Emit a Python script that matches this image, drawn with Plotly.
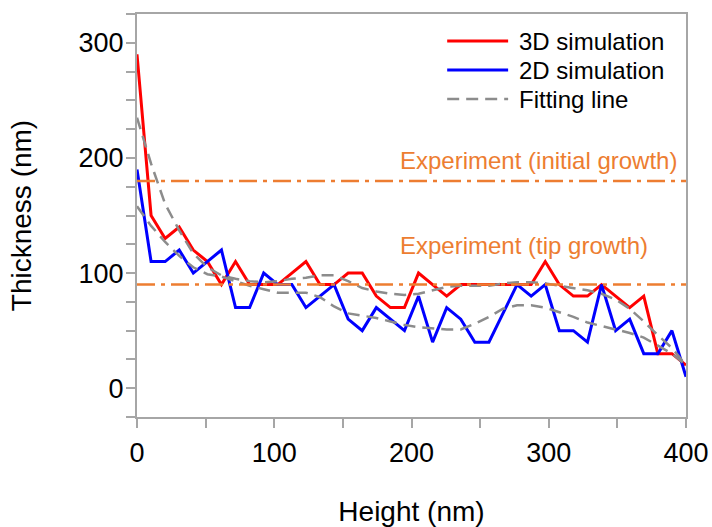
import plotly.graph_objects as go

# Height positions of the simulation samples (nm)
height_nm = [0, 10.26, 20.51, 30.77, 41.03, 51.28, 61.54, 71.79, 82.05, 92.31,
             102.56, 112.82, 123.08, 133.33, 143.59, 153.85, 164.10, 174.36, 184.62, 194.87,
             205.13, 215.38, 225.64, 235.90, 246.15, 256.41, 266.67, 276.92, 287.18, 297.44,
             307.69, 317.95, 328.21, 338.46, 348.72, 358.97, 369.23, 379.49, 389.74, 400]

# Thickness (nm)
sim_3d = [290, 150, 130, 140, 120, 110, 90, 110, 90, 90,
          90, 100, 110, 90, 90, 100, 100, 80, 70, 70,
          100, 90, 80, 90, 90, 90, 90, 90, 90, 110,
          90, 80, 80, 90, 80, 70, 80, 30, 30, 20]

sim_2d = [190, 110, 110, 120, 100, 110, 120, 70, 70, 100,
          90, 90, 70, 80, 90, 60, 50, 70, 60, 50,
          80, 40, 70, 60, 40, 40, 65, 90, 80, 90,
          50, 50, 40, 90, 50, 60, 30, 30, 50, 10]

fit_3d = [235, 195, 160, 137, 117, 105, 98, 95, 93, 92,
          93, 95, 96, 98, 98, 93, 87, 84, 82, 81,
          82, 85, 88, 89, 89, 89, 91, 92, 92, 91,
          89, 87, 85, 82, 77, 69, 58, 46, 35, 20]

fit_2d = [158, 141, 127, 115, 105, 99, 97, 93, 89, 86,
          83, 83, 83, 79, 71, 65, 63, 61, 58, 55,
          53, 52, 51, 51, 56, 62, 69, 72, 72, 70,
          66, 62, 57, 54, 51, 48, 44, 37, 30, 20]

# Experimental reference thicknesses (nm)
exp_labels = ["Experiment (initial growth)", "Experiment (tip growth)"]
exp_values = [180, 90]
exp_label_y = [198, 124]

# Legend entries
legend_names = ["3D simulation", "2D simulation", "Fitting line"]

ORANGE = "#ED7D31"
FONT = "Liberation Sans, Arial, sans-serif"
styles = [
    dict(color="#FF0000", width=3),
    dict(color="#0000FF", width=3),
    dict(color="#8C8C8C", width=2.5, dash="12px,7px"),
]

fig = go.Figure()
fig.add_trace(go.Scatter(x=height_nm, y=sim_3d, mode="lines", name=legend_names[0],
                         line=styles[0]))
fig.add_trace(go.Scatter(x=height_nm, y=sim_2d, mode="lines", name=legend_names[1],
                         line=styles[1]))
fig.add_trace(go.Scatter(x=height_nm, y=fit_3d, mode="lines", name=legend_names[2],
                         line=styles[2]))
fig.add_trace(go.Scatter(x=height_nm, y=fit_2d, mode="lines", name=legend_names[2],
                         line=styles[2]))

for label, val, ly in zip(exp_labels, exp_values, exp_label_y):
    fig.add_shape(type="line", xref="x", yref="y", x0=0, x1=400, y0=val, y1=val,
                  line=dict(color=ORANGE, width=2.5, dash="18px,6px,4px,6px"))
    fig.add_annotation(x=190, y=ly, xref="x", yref="y", text=label, showarrow=False,
                       xanchor="left", yanchor="middle",
                       font=dict(family=FONT, size=24, color=ORANGE))

# Key in the upper right corner of the plot area, with long line samples
key_y = [0.933, 0.861, 0.789]
for name, style, ky in zip(legend_names, styles, key_y):
    fig.add_shape(type="line", xref="paper", yref="paper", x0=0.565, x1=0.676,
                  y0=ky, y1=ky, line=style)
    fig.add_annotation(x=0.692, y=ky, xref="paper", yref="paper", text=name,
                       showarrow=False, xanchor="left", yanchor="middle",
                       font=dict(family=FONT, size=24, color="#000000"))

axis_common = dict(
    showgrid=False, zeroline=False, automargin=False,
    showline=True, linecolor="#A6A6A6", linewidth=2, mirror=True,
    ticks="outside", tickcolor="#A6A6A6", ticklen=9, tickwidth=1.5,
    tickfont=dict(family=FONT, size=27, color="#000000"),
)

fig.update_xaxes(range=[0, 400], tick0=0, dtick=100,
                 minor=dict(dtick=50, ticks="outside", ticklen=9, tickcolor="#A6A6A6"),
                 title=dict(text="Height (nm)", font=dict(family=FONT, size=28, color="#000000"),
                            standoff=36),
                 ticklabelstandoff=2,
                 **axis_common)
fig.update_yaxes(range=[-25, 325], tick0=0, dtick=100,
                 minor=dict(dtick=25, ticks="outside", ticklen=9, tickcolor="#A6A6A6"),
                 title=dict(text="Thickness (nm)", font=dict(family=FONT, size=28, color="#000000"),
                            standoff=39),
                 ticklabelstandoff=-3,
                 **axis_common)

fig.update_layout(
    width=712, height=527,
    margin=dict(l=137, r=26, t=14, b=110),
    paper_bgcolor="white", plot_bgcolor="white",
    font=dict(family=FONT),
    showlegend=False,
)

fig.write_html("out.html")
